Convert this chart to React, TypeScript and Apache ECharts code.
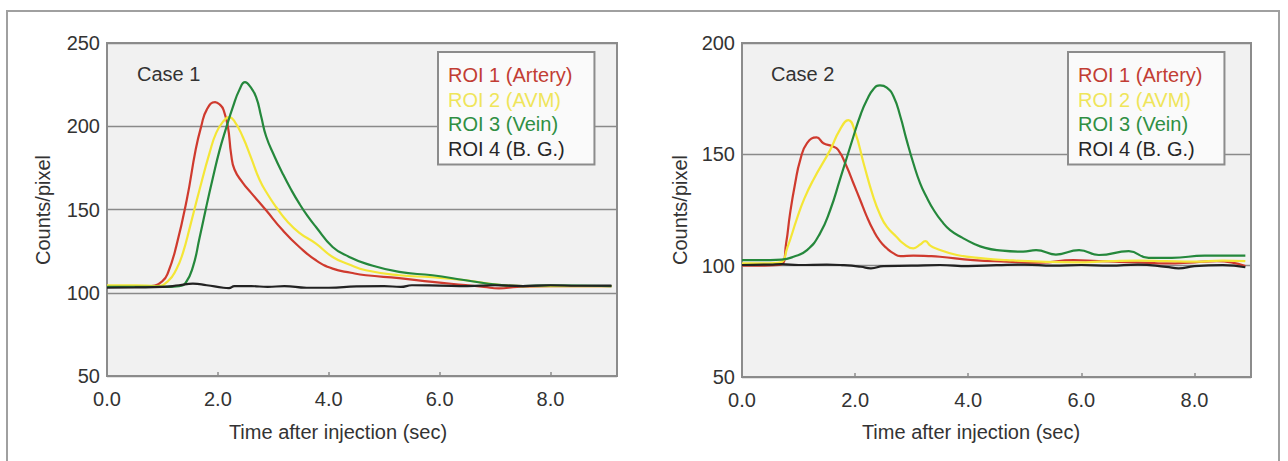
import React, { useEffect, useRef } from "react";
import * as echarts from "echarts";

type Pt = [number, number];

const SERIES_NAMES = ["ROI 1 (Artery)", "ROI 2 (AVM)", "ROI 3 (Vein)", "ROI 4 (B. G.)"];
const LINE_COLORS = ["#cf3a2e", "#f4e636", "#25883c", "#222222"];
const LEGEND_TEXT_COLORS = ["#c23d33", "#efe55a", "#2f8f43", "#262626"];

const X_TICKS_1 = { min: 0, max: 9.2, interval: 2 };
const Y_TICKS_1 = { min: 50, max: 250, interval: 50 };
const X_TICKS_2 = { min: 0, max: 9.0, interval: 2 };
const Y_TICKS_2 = { min: 50, max: 200, interval: 50 };

// Case 1 (time sec, counts/pixel)
const CASE1_ROI1: Pt[] = [
  [0, 103.5], [0.5, 103.5], [0.8, 104], [1.0, 107], [1.1, 112], [1.25, 128], [1.44, 156],
  [1.6, 186], [1.7, 200], [1.8, 210], [1.95, 214.5], [2.05, 212.5], [2.1, 210], [2.18, 200],
  [2.24, 183], [2.3, 174], [2.45, 166], [2.6, 160], [2.87, 149.5], [3.17, 137.5], [3.47, 127.5],
  [3.77, 119.5], [4.07, 114.5], [4.4, 112], [4.67, 110.5], [5.27, 108.8], [5.87, 106.5],
  [6.47, 104.6], [6.8, 103.5], [7.07, 102.6], [7.4, 103.5], [8.0, 104], [8.5, 104], [9.1, 104],
];
const CASE1_ROI2: Pt[] = [
  [0, 104.5], [0.5, 104.5], [0.9, 104], [1.1, 107], [1.25, 114], [1.37, 124], [1.5, 140],
  [1.67, 162], [1.85, 184], [1.97, 196], [2.1, 203], [2.2, 205.5], [2.3, 203], [2.45, 193.5],
  [2.6, 181], [2.75, 168], [2.9, 159], [3.05, 151.5], [3.25, 143], [3.47, 136], [3.77, 129.5],
  [4.07, 121.5], [4.37, 117], [4.67, 113.5], [5.27, 110.5], [5.87, 109.3], [6.47, 107.5],
  [7.07, 104.7], [7.5, 104], [8.0, 104], [9.1, 104],
];
const CASE1_ROI3: Pt[] = [
  [0, 103.5], [1.0, 103.5], [1.3, 104], [1.42, 106], [1.55, 115.5], [1.67, 133], [1.79, 151.5],
  [1.91, 169], [2.03, 185.5], [2.15, 199], [2.27, 211.5], [2.39, 222], [2.49, 226.5],
  [2.58, 224], [2.69, 217.5], [2.78, 206], [2.87, 194], [3.02, 182], [3.17, 171.5],
  [3.32, 162], [3.47, 153.5], [3.62, 146], [3.77, 139.5], [4.07, 127.5], [4.37, 121.5],
  [4.67, 117.5], [5.27, 112.5], [5.87, 110.5], [6.47, 107.5], [7.07, 104.7], [7.5, 104],
  [8.0, 104.5], [9.1, 104],
];
const CASE1_ROI4: Pt[] = [
  [0, 103], [0.5, 103.2], [1.0, 103.5], [1.3, 104.5], [1.55, 105.5], [1.8, 104.5], [2.1, 103],
  [2.2, 102.8], [2.3, 104], [2.6, 104], [2.9, 103.5], [3.2, 104], [3.6, 103], [4.0, 103],
  [4.5, 103.8], [5.0, 104], [5.3, 103.5], [5.5, 104.5], [6.0, 104.3], [6.5, 104], [7.0, 104.5],
  [7.5, 104], [8.0, 104.5], [8.5, 104.2], [9.1, 104.3],
];

// Case 2
const CASE2_ROI1: Pt[] = [
  [0, 100], [0.4, 100], [0.7, 100.5], [0.78, 110], [0.85, 123.5], [0.94, 137], [1.03, 147.5],
  [1.15, 155], [1.32, 157.6], [1.44, 155], [1.59, 153.7], [1.7, 152], [1.85, 144.5],
  [1.97, 137], [2.09, 129.5], [2.2, 122.5], [2.32, 116], [2.44, 111], [2.56, 107.8],
  [2.68, 105.5], [2.8, 104.3], [3.03, 104.5], [3.3, 104.3], [3.5, 104], [4.09, 102.5],
  [4.68, 101.8], [5.27, 101.3], [5.86, 102.5], [6.3, 102], [7.0, 101.5], [7.5, 101],
  [8.0, 101.5], [8.4, 102], [8.9, 99.8],
];
const CASE2_ROI2: Pt[] = [
  [0, 101], [0.4, 101], [0.68, 101.5], [0.8, 108], [0.97, 121], [1.1, 130], [1.26, 138.5],
  [1.56, 152], [1.73, 161], [1.88, 165.4], [2.0, 160], [2.15, 146], [2.32, 131], [2.44, 123],
  [2.56, 117.5], [2.73, 113], [2.85, 110], [3.03, 107.8], [3.15, 109.5], [3.24, 111],
  [3.33, 109], [3.42, 107.8], [3.8, 104.8], [4.3, 103.2], [4.68, 102.5], [5.27, 101.8],
  [5.9, 101.5], [6.5, 102], [7.0, 102.3], [7.5, 102], [8.0, 101.8], [8.5, 102.3], [8.9, 102],
];
const CASE2_ROI3: Pt[] = [
  [0, 102.5], [0.5, 102.5], [0.7, 102.7], [0.91, 104], [1.15, 107], [1.38, 114.5], [1.56, 125],
  [1.73, 138.5], [1.97, 158], [2.1, 168], [2.21, 174.5], [2.33, 179.5], [2.44, 181],
  [2.56, 180], [2.68, 176], [2.8, 167], [2.91, 156.5], [3.03, 146], [3.15, 137], [3.27, 130.5],
  [3.39, 125], [3.53, 120], [3.68, 116], [3.9, 112.5], [4.09, 110], [4.3, 108], [4.51, 107],
  [4.97, 106.3], [5.2, 107], [5.55, 105], [5.96, 107], [6.31, 104.8], [6.84, 106.5],
  [7.19, 103.5], [7.6, 103.5], [8.18, 104.5], [8.9, 104.5],
];
const CASE2_ROI4: Pt[] = [
  [0, 100.3], [0.5, 100.5], [0.7, 100.7], [1.0, 100.3], [1.5, 100.5], [1.8, 100.2], [2.1, 99.5],
  [2.28, 98.8], [2.5, 99.8], [3.0, 100], [3.5, 100.3], [4.0, 99.8], [4.5, 100.2], [5.0, 100.5],
  [5.5, 100], [6.0, 100.3], [6.5, 100], [7.0, 100.5], [7.5, 99.5], [7.72, 98.8], [8.0, 99.8],
  [8.5, 100.2], [8.9, 99.3],
];

const CASE_LABELS = ["Case 1", "Case 2"];
const X_TITLE = "Time after injection (sec)";
const Y_TITLE = "Counts/pixel";

const FONT = "'Liberation Sans', Arial, Helvetica, sans-serif";
const TEXT_COLOR = "#333333";

export default function App() {
  const ref = useRef<HTMLDivElement>(null);

  useEffect(() => {
    if (!ref.current) return;
    const chart = echarts.init(ref.current, null, { renderer: "svg" });

    const case1 = [CASE1_ROI1, CASE1_ROI2, CASE1_ROI3, CASE1_ROI4];
    const case2 = [CASE2_ROI1, CASE2_ROI2, CASE2_ROI3, CASE2_ROI4];

    const grids = [
      { left: 107, top: 43, width: 510, height: 333 },
      { left: 742, top: 43, width: 509, height: 334 },
    ].map((g) => ({
      ...g,
      show: true,
      backgroundColor: "#f1f1f1",
      borderColor: "#8c8c8c",
      borderWidth: 2,
    }));

    const makeX = (idx: number, t: { min: number; max: number; interval: number }) => ({
      type: "value",
      gridIndex: idx,
      min: t.min,
      max: t.max,
      interval: t.interval,
      axisLine: { show: false },
      axisTick: { show: true, inside: true, length: 4, lineStyle: { color: "#8c8c8c", width: 1.5 } },
      splitLine: { show: false },
      axisLabel: {
        showMaxLabel: false,
        margin: 13,
        color: TEXT_COLOR,
        fontSize: 20,
        fontFamily: FONT,
        formatter: (v: number) => v.toFixed(1),
      },
    });
    const makeY = (idx: number, t: { min: number; max: number; interval: number }) => ({
      type: "value",
      gridIndex: idx,
      min: t.min,
      max: t.max,
      interval: t.interval,
      axisLine: { show: false },
      axisTick: { show: false },
      splitLine: { show: true, lineStyle: { color: "#8a8a8a", width: 1.3 } },
      axisLabel: { margin: 7, color: TEXT_COLOR, fontSize: 20, fontFamily: FONT },
    });

    const series: any[] = [];
    [case1, case2].forEach((sets, gi) => {
      sets.forEach((data, si) => {
        series.push({
          type: "line",
          name: SERIES_NAMES[si],
          xAxisIndex: gi,
          yAxisIndex: gi,
          data,
          showSymbol: false,
          smooth: 0.5,
          color: LINE_COLORS[si],
          lineStyle: { color: LINE_COLORS[si], width: 2.2 },
        });
      });
    });

    const makeLegend = (left: number) => ({
      left,
      top: 52,
      orient: "vertical",
      icon: "none",
      itemWidth: 0,
      itemHeight: 20,
      itemGap: 4.5,
      selectedMode: false,
      padding: [13, 22, 6, 5],
      backgroundColor: "#fafafa",
      borderColor: "#8c8c8c",
      borderWidth: 2,
      textStyle: { fontSize: 20, fontFamily: FONT, lineHeight: 20 },
      data: SERIES_NAMES.map((n, i) => ({ name: n, textStyle: { color: LEGEND_TEXT_COLORS[i] } })),
    });

    const txt = (text: string, x: number, y: number, size: number, extra: any = {}) => ({
      type: "text",
      x,
      y,
      rotation: extra.rotation || 0,
      style: {
        text,
        fill: TEXT_COLOR,
        font: `${size}px ${FONT}`,
        align: extra.align || "center",
        verticalAlign: "middle",
      },
    });

    chart.setOption({
      animation: false,
      backgroundColor: "#ffffff",
      grid: grids,
      xAxis: [makeX(0, X_TICKS_1), makeX(1, X_TICKS_2)],
      yAxis: [makeY(0, Y_TICKS_1), makeY(1, Y_TICKS_2)],
      legend: [makeLegend(438), makeLegend(1068)],
      series,
      graphic: [
        {
          type: "rect",
          z: -10,
          silent: true,
          shape: { x: 7, y: 11, width: 1272, height: 480 },
          style: { fill: "none", stroke: "#a0a0a0", lineWidth: 2 },
        },
        txt(CASE_LABELS[0], 137, 74, 20, { align: "left" }),
        txt(CASE_LABELS[1], 771, 74, 20, { align: "left" }),
        txt(X_TITLE, 338, 432, 20),
        txt(X_TITLE, 971, 432, 20),
        txt(Y_TITLE, 43, 210, 20, { rotation: Math.PI / 2 }),
        txt(Y_TITLE, 680, 210, 20, { rotation: Math.PI / 2 }),
      ],
    });

    return () => chart.dispose();
  }, []);

  return (
    <div
      ref={ref}
      style={{ position: "fixed", left: 0, top: 0, width: 1288, height: 461, background: "#fff" }}
    />
  );
}
